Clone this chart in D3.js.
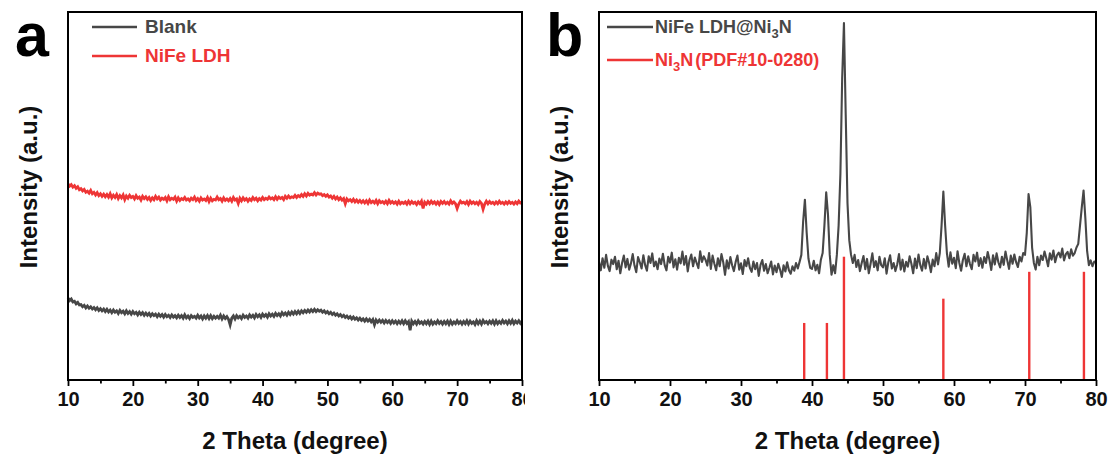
<!DOCTYPE html>
<html>
<head>
<meta charset="utf-8">
<script src="https://cdn.jsdelivr.net/npm/d3@7"></script>
<style>
  body { margin: 0; background: #fff; }
  text { font-family: Arial, "Liberation Sans", sans-serif; font-weight: bold; }
</style>
</head>
<body>
<div id="chart-display"></div>
<script>
// XRD patterns, 2theta from 10 to 80 in 0.25 deg steps
const blankA = [
  223,216,220,212, 214,207,211,204, 205,199,203,196, 201,195,199,193, 197,191,196,189,
  194,188,193,186, 192,185,190,183, 190,184,188,181, 189,183,187,180, 188,181,186,179,
  186,180,184,177, 184,178,183,176, 182,176,181,174, 180,175,179,172, 179,173,178,171,
  178,172,176,170, 177,171,175,169, 176,170,175,168, 177,169,174,167, 175,170,173,168,
  176,169,174,166, 174,168,175,167, 175,167,173,168, 173,168,176,166, 174,167,172,165,
  150,168,174,166, 175,169,173,167, 176,170,174,168, 177,171,176,169, 178,172,177,170,
  179,173,178,171, 180,174,179,173, 181,175,180,174, 183,177,182,176, 184,178,185,179,
  186,180,187,181, 188,183,189,184, 190,185,191,186, 192,186,191,187, 190,184,188,182,
  186,180,184,178, 182,176,180,174, 178,172,176,170, 174,168,172,166, 171,165,169,163,
  168,162,166,160, 166,160,165,158, 164,150,163,157, 163,157,162,155, 162,156,161,154,
  161,155,160,153, 160,154,161,153, 161,154,159,135, 160,153,159,152, 161,154,158,152,
  159,153,160,151, 160,152,158,153, 161,154,159,152, 159,153,160,151, 160,152,158,153,
  161,154,159,152, 159,153,161,152, 160,154,158,151, 161,153,160,152, 162,155,159,153,
  160,154,161,152, 161,153,159,154, 162,155,160,153, 161,154,162,153, 160,155,161,154,
  160
];
const ldhA = [
  533,527,531,524, 528,521,525,517, 520,514,518,510, 513,508,515,506, 510,503,509,501,
  506,499,505,498, 504,497,506,495, 502,496,504,493, 501,495,503,490, 500,494,502,496,
  499,492,501,494, 497,489,499,493, 498,491,496,488, 495,490,499,492, 497,489,494,491,
  496,487,498,490, 494,491,497,486, 495,488,493,490, 496,489,492,487, 494,490,497,488,
  493,486,495,489, 492,488,496,485, 494,487,491,489, 497,490,493,486, 495,488,492,487,
  493,486,496,489, 492,480,494,487, 495,489,493,486, 492,488,496,490, 494,487,493,489,
  496,490,494,491, 497,492,495,490, 498,491,497,493, 496,490,499,494, 500,495,498,496,
  502,496,501,498, 504,499,506,500, 507,502,505,503, 509,503,508,505, 506,501,504,499,
  503,497,500,494, 499,492,497,490, 495,489,493,479, 492,487,490,485, 491,484,489,483,
  488,482,487,481, 487,480,489,482, 486,481,488,479, 487,482,485,480, 486,479,488,481,
  485,480,484,478, 486,479,483,480, 484,478,486,479, 485,480,483,477, 484,479,486,466,
  483,478,485,479, 486,480,484,478, 484,477,485,480, 485,479,483,478, 487,480,484,479,
  466,478,486,481, 483,479,485,477, 486,480,484,479, 483,477,485,480, 464,478,486,479,
  485,480,483,478, 484,479,486,480, 483,478,484,479, 485,480,483,478, 484,479,486,481,
  483
];
const ldhNi3nB = [
  322,298,331,305, 340,310,296,327, 315,335,301,324, 290,318,338,306, 329,300,317,342,
  311,293,334,320, 303,339,312,297, 336,318,344,309, 322,301,330,315, 343,312,298,335,
  319,346,306,328, 300,332,317,349, 313,337,295,326, 341,309,333,318, 304,350,321,336,
  327,311,345,302, 338,316,298,331, 309,342,320,286, 325,303,334,312, 296,321,338,300,
  317,288,326,309, 331,305,294,322, 301,318,283,313, 326,297,315,290, 305,322,287,311,
  293,316,300,280, 312,295,320,298, 289,309,297,318, 303,321,340,430, 490,400,330,305,
  302,324,298,313, 290,327,345,420, 510,450,340,286, 312,290,340,420, 560,820,970,720,
  480,380,340,318, 340,307,326,296, 318,337,301,329, 290,316,344,307, 323,298,335,312,
  306,331,289,320, 339,303,318,296, 314,342,300,327, 295,321,308,336, 316,290,330,304,
  341,312,297,329, 303,336,318,293, 327,309,345,314, 345,420,512,420, 345,308,347,316,
  332,304,350,318, 297,326,343,309, 336,315,301,340, 322,346,310,331, 305,334,318,348,
  326,299,339,314, 344,320,306,335, 313,349,325,302, 338,316,341,320, 307,335,322,345,
  340,400,505,470, 360,318,300,335, 312,338,326,349, 331,309,344,327, 352,320,339,346,
  333,357,325,342, 348,331,355,338, 345,360,370,420, 470,515,440,350, 312,325,309,322,
  318
];
// Ni3N reference (PDF#10-0280)
const pdfPos = [38.9, 42.1, 44.5, 58.5, 70.6, 78.3];
const pdfInt = [155, 155, 335, 221, 294, 294];

const xTicks = [10, 20, 30, 40, 50, 60, 70, 80];
const xMinor = [15, 25, 35, 45, 55, 65, 75];

const gray = "#474747", red = "#ee3535";
const width = 1113, height = 457;
const plotTop = 12, plotBottom = 380;

let svg = d3.select("#chart-display")
  .append("svg")
  .attr("width", width)
  .attr("height", height);

svg.append("defs").append("clipPath").attr("id", "clipA")
  .append("rect").attr("x", 0).attr("y", 0).attr("width", 525).attr("height", height);

let y = d3.scaleLinear().domain([0, 1000]).range([plotBottom, plotTop]);

function drawPanel(g, left, right, letter) {
  let x = d3.scaleLinear().domain([10, 80]).range([left, right]);

  g.append("g")
    .attr("transform", `translate(0,${plotBottom})`)
    .call(d3.axisBottom(x).tickValues(xMinor).tickSize(3.5).tickFormat(""))
    .call(a => a.select(".domain").remove())
    .selectAll("line").attr("stroke", "#000").attr("stroke-width", 1.8);

  let ax = g.append("g")
    .attr("transform", `translate(0,${plotBottom})`)
    .call(d3.axisBottom(x).tickValues(xTicks).tickSize(6).tickPadding(6));
  ax.select(".domain").remove();
  ax.selectAll("line").attr("stroke", "#000").attr("stroke-width", 1.8);
  ax.selectAll("text")
    .attr("fill", "#111")
    .style("font-size", "20px")
    .style("font-family", "Arial, 'Liberation Sans', sans-serif")
    .style("font-weight", "bold");

  g.append("text")
    .attr("x", (left + right) / 2)
    .attr("y", 449)
    .attr("text-anchor", "middle")
    .style("font-size", "24px")
    .attr("fill", "#111")
    .text("2 Theta (degree)");

  g.append("text")
    .attr("transform", `translate(${left - 31},187) rotate(-90)`)
    .attr("text-anchor", "middle")
    .style("font-size", "24px")
    .attr("fill", "#111")
    .text("Intensity (a.u.)");

  g.append("text")
    .attr("x", left - 53)
    .attr("y", 56)
    .style("font-size", "61px")
    .attr("fill", "#000")
    .text(letter);

  return x;
}

function line(x, vals) {
  return d3.line()
    .x((d, i) => x(10 + i * 0.25))
    .y(d => y(d))(vals);
}

// ---- panel a
let ga = svg.append("g").attr("clip-path", "url(#clipA)");
let xa = drawPanel(ga, 68, 522, "a");

ga.append("path").attr("d", line(xa, blankA))
  .attr("fill", "none").attr("stroke", gray).attr("stroke-width", 2.8);
ga.append("path").attr("d", line(xa, ldhA))
  .attr("fill", "none").attr("stroke", red).attr("stroke-width", 2.8);

ga.append("rect")
  .attr("x", 68).attr("y", plotTop).attr("width", 522 - 68).attr("height", plotBottom - plotTop)
  .attr("fill", "none").attr("stroke", "#000").attr("stroke-width", 2);

let legA = [["Blank", gray], ["NiFe LDH", red]];
legA.forEach((l, i) => {
  let yy = 27 + i * 29;
  ga.append("line").attr("x1", 92).attr("x2", 137).attr("y1", yy).attr("y2", yy)
    .attr("stroke", l[1]).attr("stroke-width", 2.5);
  ga.append("text").attr("x", 145).attr("y", yy + 6).attr("fill", l[1])
    .style("font-size", "19px").text(l[0]);
});

// ---- panel b
let gb = svg.append("g");
let xb = drawPanel(gb, 599, 1096, "b");

gb.append("path").attr("d", line(xb, ldhNi3nB))
  .attr("fill", "none").attr("stroke", gray).attr("stroke-width", 2.1)
  .attr("stroke-linejoin", "round");

gb.append("g").selectAll("line")
  .data(pdfPos)
  .enter()
  .append("line")
  .attr("x1", d => xb(d)).attr("x2", d => xb(d))
  .attr("y1", y(0)).attr("y2", (d, i) => y(pdfInt[i]))
  .attr("stroke", red).attr("stroke-width", 2.4);

gb.append("rect")
  .attr("x", 599).attr("y", plotTop).attr("width", 1096 - 599).attr("height", plotBottom - plotTop)
  .attr("fill", "none").attr("stroke", "#000").attr("stroke-width", 2);

let legB = [["NiFe LDH@Ni", "3", "N", gray], ["Ni", "3", "N", red]];
legB.forEach((l, i) => {
  let yy = 27 + i * 33;
  gb.append("line").attr("x1", 607).attr("x2", 653).attr("y1", yy).attr("y2", yy)
    .attr("stroke", l[3]).attr("stroke-width", 2.5);
  let t = gb.append("text").attr("x", 655).attr("y", yy + 6).attr("fill", l[3])
    .style("font-size", "18px");
  t.append("tspan").text(l[0]);
  t.append("tspan").attr("dy", 5).style("font-size", "13px").text(l[1]);
  t.append("tspan").attr("dy", -5).text(l[2]);
  if (i == 1) t.append("tspan").attr("dx", 2).text("(PDF#10-0280)");
});
</script>
</body>
</html>
